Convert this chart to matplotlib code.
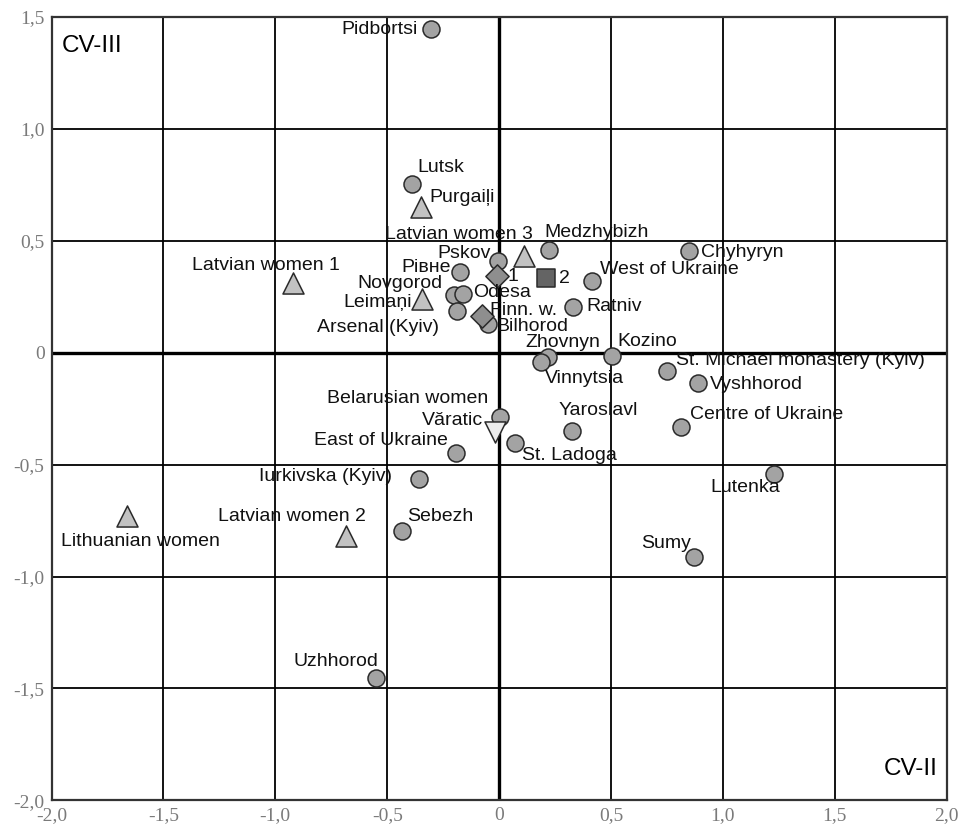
import numpy as np
import matplotlib
matplotlib.use("Agg")
import matplotlib.pyplot as plt

# canonical variate scores (CV-II, CV-III) per sample
names = ["Pidbortsi", "Lutsk", "Purgaiļi", "Latvian women 1", "Leimaņi",
         "Pskov", "Рівне", "Novgorod", "Odesa", "Arsenal (Kyiv)", "Finn. w.",
         "Bilhorod", "1", "Latvian women 3", "Medzhybizh", "2", "West of Ukraine",
         "Ratniv", "Chyhyryn", "Zhovnyn", "Vinnytsia", "Kozino",
         "St. Michael monastery (Kyiv)", "Vyshhorod", "Centre of Ukraine",
         "Yaroslavl", "Belarusian women", "Văratic", "St. Ladoga", "Lutenka",
         "Sumy", "East of Ukraine", "Iurkivska (Kyiv)", "Sebezh",
         "Latvian women 2", "Lithuanian women", "Uzhhorod"]
cv2 = [-0.304, -0.389, -0.350, -0.920, -0.345,
       -0.003, -0.174, -0.200, -0.160, -0.190, -0.078,
       -0.048, -0.008, 0.112, 0.223, 0.209, 0.414,
       0.332, 0.849, 0.220, 0.188, 0.506,
       0.752, 0.888, 0.813,
       0.325, 0.004, -0.018, 0.071, 1.230,
       0.873, -0.194, -0.356, -0.435,
       -0.685, -1.663, -0.551]
cv3 = [1.444, 0.752, 0.648, 0.310, 0.239,
       0.410, 0.361, 0.257, 0.261, 0.185, 0.164,
       0.127, 0.342, 0.431, 0.458, 0.331, 0.319,
       0.202, 0.454, -0.021, -0.041, -0.016,
       -0.081, -0.138, -0.331,
       -0.350, -0.289, -0.356, -0.405, -0.542,
       -0.914, -0.450, -0.566, -0.795,
       -0.819, -0.730, -1.452]
groups = ["site", "site", "tri", "tri", "tri",
          "site", "site", "site", "site", "site", "dia",
          "site", "dia", "tri", "site", "sq", "site",
          "site", "site", "site", "site", "site",
          "site", "site", "site",
          "site", "site", "inv", "site", "site",
          "site", "site", "site", "site",
          "tri", "tri", "site"]

styles = {
    "site": dict(marker="o", s=150, c="#a3a3a3"),
    "tri": dict(marker="^", s=230, c="#c2c2c2"),
    "dia": dict(marker="D", s=140, c="#8e8e8e"),
    "sq": dict(marker="s", s=170, c="#646464"),
    "inv": dict(marker="v", s=230, c="#ececec"),
}

# label offsets in pixels (dx, dy, horizontal alignment)
label_pos = {
    "Pidbortsi": (-13, 0, "right"), "Lutsk": (5, 17, "left"),
    "Purgaiļi": (9, 10, "left"), "Latvian women 1": (-101, 18, "left"),
    "Leimaņi": (-10, -3, "right"), "Pskov": (-8, 7, "right"),
    "Рівне": (-9, 4, "right"), "Novgorod": (-12, 11, "right"),
    "Odesa": (10, 2, "left"), "Arsenal (Kyiv)": (-18, -16, "right"),
    "Finn. w.": (8, 5, "left"), "Bilhorod": (8, -2, "left"),
    "1": (10, -1, "left"), "Latvian women 3": (-65, 22, "center"),
    "Medzhybizh": (-5, 17, "left"), "2": (13, 0, "left"),
    "West of Ukraine": (8, 12, "left"), "Ratniv": (13, 1, "left"),
    "Chyhyryn": (12, -2, "left"), "Zhovnyn": (14, 15, "center"),
    "Vinnytsia": (4, -17, "left"), "Kozino": (5, 15, "left"),
    "St. Michael monastery (Kyiv)": (9, 10, "left"), "Vyshhorod": (12, -1, "left"),
    "Centre of Ukraine": (9, 12, "left"), "Yaroslavl": (-13, 20, "left"),
    "Belarusian women": (-12, 19, "right"), "Văratic": (-12, 12, "right"),
    "St. Ladoga": (7, -12, "left"), "Lutenka": (6, -14, "right"),
    "Sumy": (-3, 14, "right"), "East of Ukraine": (-8, 13, "right"),
    "Iurkivska (Kyiv)": (-27, 3, "right"), "Sebezh": (5, 14, "left"),
    "Latvian women 2": (20, 19, "right"), "Lithuanian women": (-66, -25, "left"),
    "Uzhhorod": (3, 16, "right"),
}

plt.rcParams["font.family"] = ["Liberation Sans", "DejaVu Sans"]

fig = plt.figure(figsize=(9.61, 8.26), dpi=100)
ax = fig.add_axes([0.0536, 0.0309, 0.9315, 0.949])

ax.set_xlim(-2, 2)
ax.set_ylim(-2, 1.5)
ticks_x = np.arange(-2, 2.01, 0.5)
ticks_y = np.arange(-2, 1.51, 0.5)
for t in ticks_x:
    ax.axvline(t, color="black", lw=1.3 if t != 0 else 2.4, zorder=1)
for t in ticks_y:
    ax.axhline(t, color="black", lw=1.3 if t != 0 else 2.4, zorder=1)

def fmt(v):
    return "0" if abs(v) < 1e-9 else f"{v:.1f}".replace(".", ",")

ax.set_xticks(ticks_x)
ax.set_yticks(ticks_y)
ax.set_xticklabels([fmt(v) for v in ticks_x])
ax.set_yticklabels([fmt(v) for v in ticks_y])
ax.tick_params(length=0, labelsize=14, labelcolor="#7a7a7a", pad=5)
for lbl in ax.get_xticklabels() + ax.get_yticklabels():
    lbl.set_family("Liberation Serif")
for sp in ax.spines.values():
    sp.set_color("#333333")
    sp.set_linewidth(1.6)

cv2 = np.array(cv2)
cv3 = np.array(cv3)
grp = np.array(groups)
for g, st in styles.items():
    m = grp == g
    ax.scatter(cv2[m], cv3[m], edgecolors="#2a2a2a", linewidths=1.1,
               zorder=3, **st)

for n, x, y in zip(names, cv2, cv3):
    dx, dy, ha = label_pos[n]
    ax.annotate(n, (x, y), xytext=(dx, dy), textcoords="offset pixels",
                ha=ha, va="center", fontsize=14, color="#111111", zorder=4)

ax.text(0.011, 0.976, "CV-III", transform=ax.transAxes, fontsize=17.5,
        ha="left", va="top")
ax.text(0.99, 0.026, "CV-II", transform=ax.transAxes, fontsize=17.5,
        ha="right", va="bottom")

fig.savefig("out.png", dpi=100)
